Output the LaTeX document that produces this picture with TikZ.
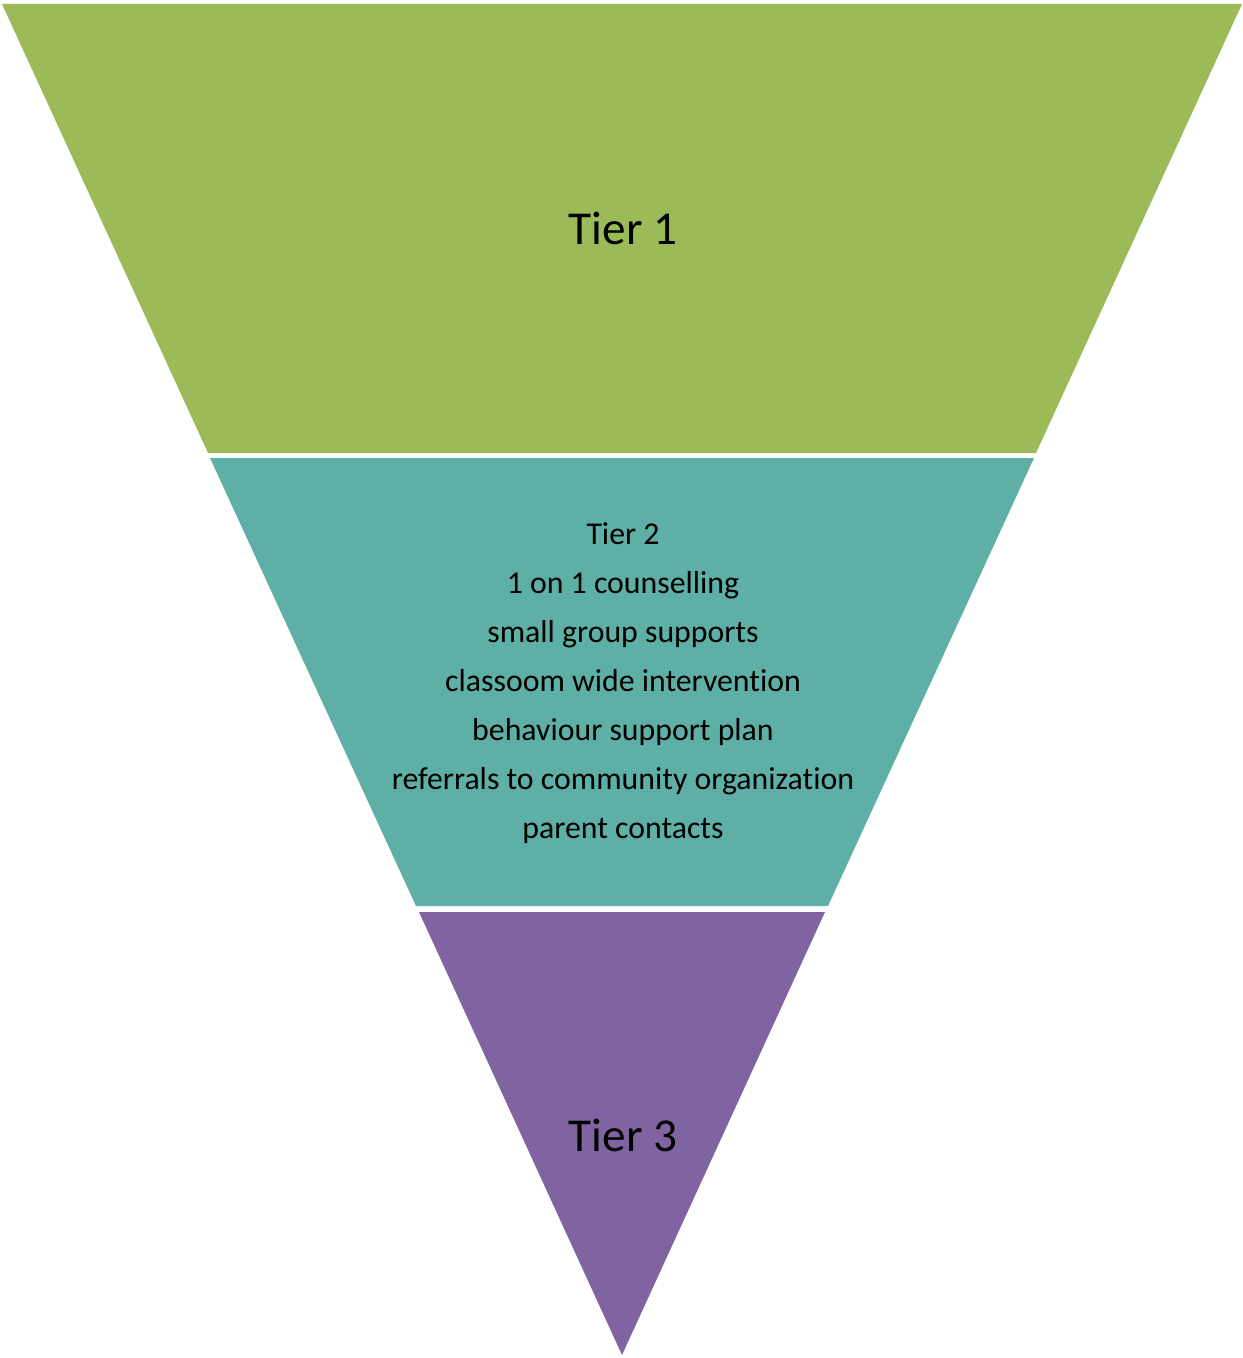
\documentclass[tikz,border=0pt]{standalone}
\usepackage{fontspec}
\setmainfont[Ligatures={NoCommon}]{Carlito}
\usepackage{xcolor}
\usetikzlibrary{positioning}
\definecolor{tiergreen}{HTML}{9BBB59}
\definecolor{tierteal}{HTML}{5EAFA6}
\definecolor{tierpurple}{HTML}{8064A2}
\tikzset{
  band/.style={draw=none},
  bigtier/.style={font=\fontsize{23.6}{28}\selectfont, text=black, inner sep=0pt},
  smalltier/.style={font=\fontsize{15.9}{24.5}\selectfont, text=black, align=center, inner sep=0pt}
}
\begin{document}
\begin{tikzpicture}[x=0.5pt, y=-0.5pt]
        \useasboundingbox (0,0) rectangle (1242,1358);
        % Tier 1 band
        \fill[band, tiergreen] (2,4) -- (1242,4) -- (1036,453) -- (208,453) -- cycle;
        \node[bigtier] (tierone) at (623,228) {Tier 1};
        % Tier 2 band
        \fill[band, tierteal] (210,458) -- (1034,458) -- (828,906) -- (416,906) -- cycle;
        \node[smalltier] (tiertwo) at (623,683) {Tier 2\\1 on 1 counselling\\small group supports\\classoom wide intervention\\behaviour support plan\\referrals to community organization\\parent contacts};
        % Tier 3 band
        \fill[band, tierpurple] (419,912) -- (825,912) -- (622,1355) -- cycle;
        \node[bigtier] (tierthree) at (623,1135) {Tier 3};
      \end{tikzpicture}
\end{document}
